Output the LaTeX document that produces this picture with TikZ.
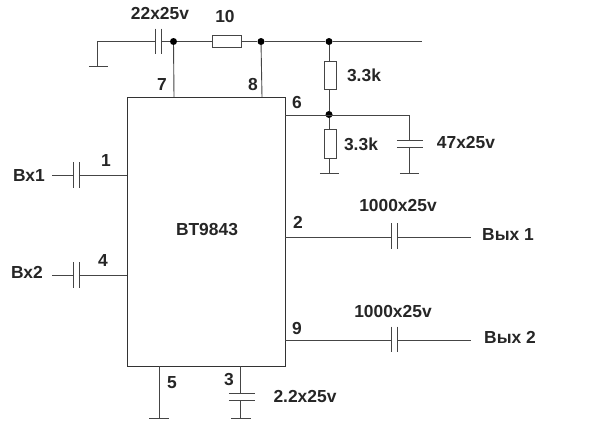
\documentclass[tikz,border=0pt]{standalone}
\usepackage{fontspec}
\setmainfont{Liberation Sans}
\definecolor{wire}{gray}{0.27}
\tikzset{
  every picture/.style={x=1pt,y=-1pt},
  wireline/.style={draw=wire,line width=0.9pt},
  icbox/.style={draw=black!80,line width=1pt,inner sep=0pt},
  res/.style={draw=wire,line width=1pt,fill=white,inner sep=0pt},
  dot/.style={circle,fill=black,inner sep=0pt,minimum size=7pt},
  capv/.style={inner sep=0pt,minimum width=5.5pt,minimum height=25.5pt},
  caph/.style={inner sep=0pt,minimum width=25pt,minimum height=6.5pt},
  gnd/.style={inner sep=0pt,minimum width=19pt,minimum height=0pt},
  lab/.style={font=\fontsize{17.4}{18}\selectfont\bfseries,text=black!85,inner sep=0pt},
}
\begin{document}
\begin{tikzpicture}
\useasboundingbox (0,0) rectangle (600,437);
\fill[white] (0,0) rectangle (600,437);

% IC
\node[icbox,minimum width=158pt,minimum height=269pt] (ic) at (206,231.5) {};

% junctions
\node[dot] (j7) at (173.5,41.5) {};
\node[dot] (j8) at (261,41.5) {};
\node[dot] (j3) at (329,41.5) {};
\node[dot] (j6) at (329,114.5) {};

% free ends
\coordinate (gndtop) at (97,41.5);
\coordinate (rail) at (422,41.5);
\coordinate (p7) at (174,97);
\coordinate (p8) at (262,97);
\coordinate (p6) at (285,115);
\coordinate (p1) at (127,175);
\coordinate (p4) at (127,275);
\coordinate (p2) at (285,237);
\coordinate (p9) at (285,340);
\coordinate (p5) at (159,366);
\coordinate (p3) at (240,366);
\coordinate (in1) at (52,175);
\coordinate (in2) at (52,275);
\coordinate (out1) at (471,237);
\coordinate (out2) at (471,340);
\coordinate (c47top) at (409,115);

% resistors
\node[res,minimum width=29pt,minimum height=12pt] (r10) at (226.5,41.5) {};
\node[res,minimum width=12pt,minimum height=28pt] (ru) at (330,75) {};
\node[res,minimum width=12pt,minimum height=29pt] (rl) at (330,143.5) {};

% capacitors
\node[capv] (c22) at (158.5,41.5) {};
\node[capv] (cin1) at (76,175) {};
\node[capv] (cin2) at (76,275) {};
\node[capv] (cout1) at (394.5,236) {};
\node[capv] (cout2) at (394.5,339.5) {};
\node[caph,minimum width=26pt] (c47) at (410,143.5) {};
\node[caph,minimum width=26pt] (c22b) at (242,397) {};
\foreach \c in {c22,cin1,cin2,cout1,cout2}
  \draw[wireline] (\c.north west) -- (\c.south west) (\c.north east) -- (\c.south east);
\foreach \c in {c47,c22b}
  \draw[wireline] (\c.north west) -- (\c.north east) (\c.south west) -- (\c.south east);

% grounds
\node[gnd] (g0) at (98.5,66) {};
\node[gnd] (g1) at (329.5,173) {};
\node[gnd] (g2) at (409.5,173) {};
\node[gnd] (g5) at (159,418) {};
\node[gnd] (g3) at (241,418) {};
\foreach \g in {g0,g1,g2,g5,g3}
  \draw[wireline] (\g.west) -- (\g.east);

% connectors
\draw[wireline] (g0.center -| gndtop) -- (gndtop) -- (c22.west);
\draw[wireline] (c22.east) -- (j7) -- (r10.west);
\draw[wireline] (r10.east) -- (j8) -- (j3) -- (rail);
\draw[wireline] (j7) -- (p7);
\draw[wireline] (j8) -- (p8);
\draw[wireline] (j3) -- (ru.north -| j3);
\draw[wireline] (ru.south -| j3) -- (j6);
\draw[wireline] (j6) -- (rl.north -| j6);
\draw[wireline] (rl.south -| j6) -- (g1.center -| j6);
\draw[wireline] (p6) -- (c47top);
\draw[wireline] (c47top) -- (c47.north -| c47top);
\draw[wireline] (c47.south -| c47top) -- (g2.center -| c47top);
\draw[wireline] (in1) -- (cin1.west);
\draw[wireline] (cin1.east) -- (p1);
\draw[wireline] (in2) -- (cin2.west);
\draw[wireline] (cin2.east) -- (p4);
\draw[wireline] (p2) -- (cout1.west |- p2);
\draw[wireline] (cout1.east |- p2) -- (out1);
\draw[wireline] (p9) -- (cout2.west |- p9);
\draw[wireline] (cout2.east |- p9) -- (out2);
\draw[wireline] (p5) -- (g5.center);
\draw[wireline] (p3) -- (c22b.north -| p3);
\draw[wireline] (c22b.south -| p3) -- (g3.center -| p3);

% labels
\node[lab] (t1) at (160,14) {22x25v};
\node[lab] (t2) at (225,17) {10};
\node[lab] (t3) at (162,85) {7};
\node[lab] (t4) at (253,85) {8};
\node[lab] (t5) at (297,103) {6};
\node[lab] (t6) at (364,75) {3.3k};
\node[lab] (t7) at (361,144) {3.3k};
\node[lab] (t8) at (466,143) {47x25v};
\node[lab] (t9) at (106,161) {1};
\node[lab] (t10) at (103,261) {4};
\node[lab] (t11) at (29,176) {Вх1};
\node[lab] (t12) at (27,272) {Вх2};
\node[lab] (t13) at (207,230) {BT9843};
\node[lab] (t14) at (298,222) {2};
\node[lab] (t15) at (398,206) {1000x25v};
\node[lab] (t16) at (297,329) {9};
\node[lab] (t17) at (393,312) {1000x25v};
\node[lab] (t18) at (508,235) {Вых\ 1};
\node[lab] (t19) at (510,337) {Вых\ 2};
\node[lab] (t20) at (172,383) {5};
\node[lab] (t21) at (229,380) {3};
\node[lab] (t22) at (305,397) {2.2x25v};
\end{tikzpicture}
\end{document}
